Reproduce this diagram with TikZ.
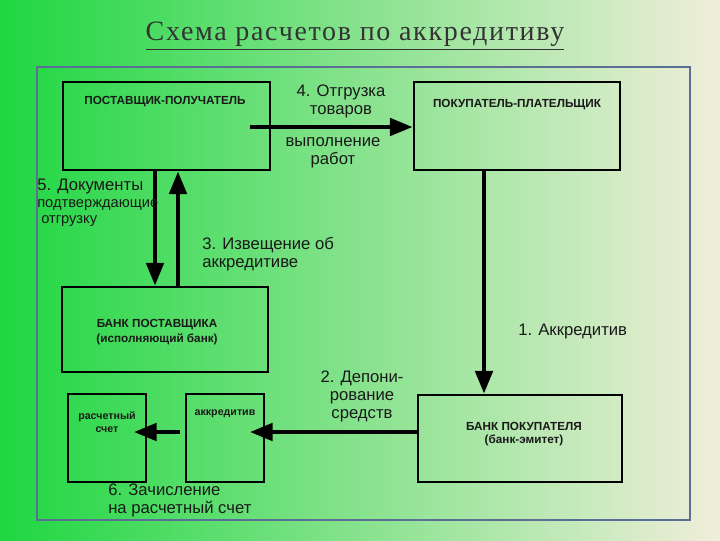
\documentclass[tikz,border=0pt]{standalone}
\usepackage{fontspec}
\setmainfont{Liberation Sans}
\newfontfamily\titlefont[LetterSpace=6]{Liberation Serif}
\usetikzlibrary{arrows.meta}
\definecolor{gL}{RGB}{30,215,65}
\definecolor{gM}{RGB}{160,230,150}
\definecolor{gR}{RGB}{240,238,218}
\definecolor{frm}{RGB}{90,110,150}
\begin{document}
\begin{tikzpicture}[x=0.75pt,y=-0.75pt,
  box/.style={draw=black,line width=2.2pt,inner sep=0pt},
  small/.style={draw=black,line width=1.3pt,inner sep=0pt},
  arr/.style={line width=3pt,-{Triangle[length=17pt,width=13pt]}},
  lbl/.style={font=\fontsize{12.5}{13.5}\selectfont,text=black!90,align=left,inner sep=0pt},
  bl/.style={font=\bfseries\fontsize{8.8}{11}\selectfont,text=black!90,inner sep=0pt,align=center}]
\useasboundingbox (0,0) rectangle (720,540);
\shade[left color=gL,middle color=gM,right color=gR] (0,0) rectangle (720,540);
\node[font=\titlefont\fontsize{21}{22}\selectfont,text=black!80] (title) at (355,36) {\underline{Схема расчетов по аккредитиву}};
\draw[frm,line width=1.2pt] (37,67) rectangle (690,520);
\node[box,minimum width=207*0.75pt,minimum height=88*0.75pt] (sup) at (166.5,126) {};
\node[bl] at (165,102) {ПОСТАВЩИК-ПОЛУЧАТЕЛЬ};
\node[box,minimum width=206*0.75pt,minimum height=88*0.75pt] (buy) at (517,126) {};
\node[bl] at (517,105) {ПОКУПАТЕЛЬ-ПЛАТЕЛЬЩИК};
\node[box,minimum width=206*0.75pt,minimum height=85*0.75pt] (sbank) at (165,329.5) {};
\node[bl] at (157,325) {БАНК ПОСТАВЩИКА};
\node[bl] at (157,339) {(исполняющий банк)};
\node[box,minimum width=204*0.75pt,minimum height=87*0.75pt] (bbank) at (520,438.5) {};
\node[bl] at (524,426) {БАНК ПОКУПАТЕЛЯ};
\node[bl] at (524,440) {(банк-эмитет)};
\node[small,minimum width=78*0.75pt,minimum height=88*0.75pt] (rs) at (107,438) {};
\node[bl,font=\bfseries\fontsize{8}{10}\selectfont] at (107,422) {расчетный\\счет};
\node[small,minimum width=78*0.75pt,minimum height=88*0.75pt] (acc) at (225,438) {};
\node[bl,font=\bfseries\fontsize{8}{10}\selectfont] at (225,414) {аккредитив};
\coordinate (a4s) at (250,127);
\draw[arr] (a4s) -- (buy.west |- a4s);
\draw[arr] (sup.south -| 155,0) -- (sbank.north -| 155,0);
\draw[arr] (sbank.north -| 178,0) -- (sup.south -| 178,0);
\draw[arr] (buy.south -| 484,0) -- (bbank.north -| 484,0);
\coordinate (a2e) at (250,432);
\draw[arr] (bbank.west |- a2e) -- (a2e);
\coordinate (a6s) at (180,432);\coordinate (a6e) at (134,432);
\draw[arr] (a6s) -- (a6e);
\node[lbl,align=center] at (341,101) {4. Отгрузка\\товаров};
\node[lbl,align=center] at (333,153) {выполнение\\работ};
\node[lbl,anchor=west] at (37,186) {5. Документы};
\node[lbl,anchor=west,font=\fontsize{11}{12}\selectfont] at (37,205) {подтверждающие};
\node[lbl,anchor=west,font=\fontsize{11}{12}\selectfont] at (41,221) {отгрузку};
\node[lbl,anchor=west] at (202,254) {3. Извещение об\\аккредитиве};
\node[lbl,anchor=west] at (518,331) {1. Аккредитив};
\node[lbl,align=center] at (362,396) {2. Депони-\\рование\\средств};
\node[lbl,anchor=west] at (108,500) {6. Зачисление\\на расчетный счет};
\end{tikzpicture}
\end{document}
